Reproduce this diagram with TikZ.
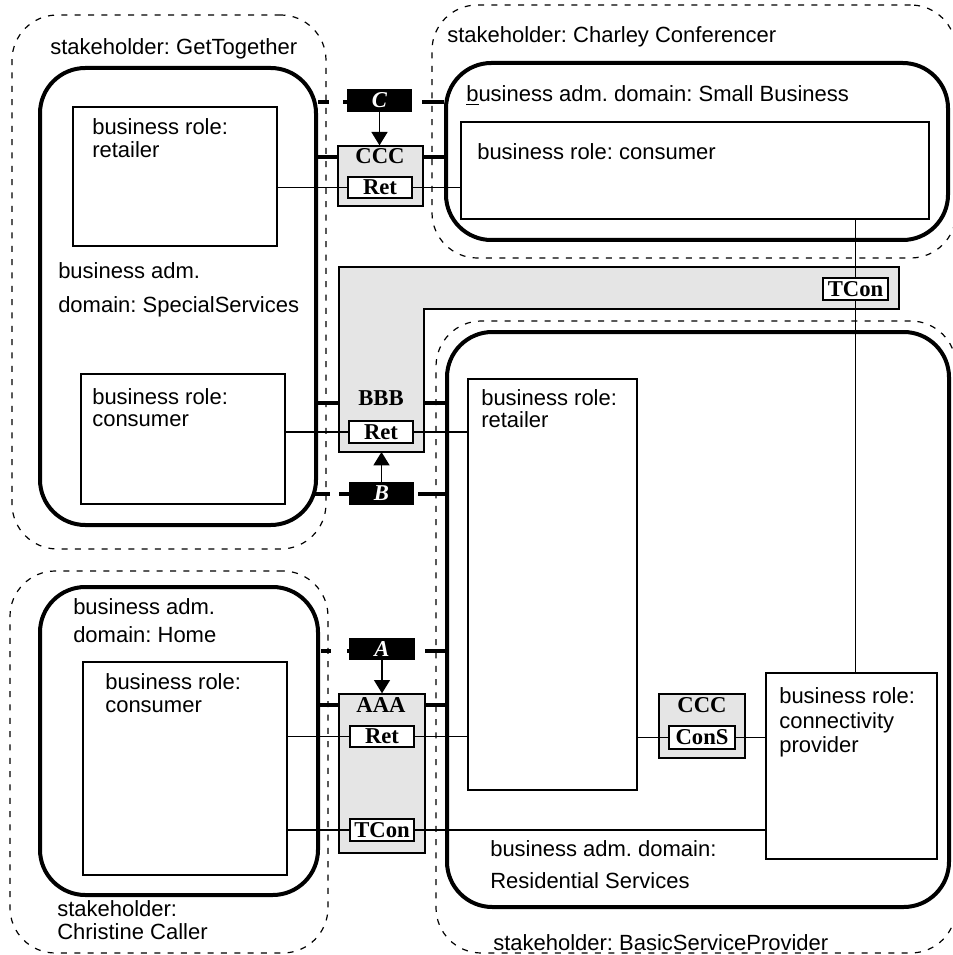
\documentclass[tikz,border=0pt]{standalone}
\usepackage{fontspec}
\setmainfont{Liberation Serif}
\setsansfont{Liberation Sans}
\usetikzlibrary{fit,arrows.meta}
\definecolor{boxgray}{gray}{0.9}
\pgfdeclarelayer{back}
\pgfdeclarelayer{mid}
\pgfsetlayers{back,mid,main}
\frenchspacing
\begin{document}
\begin{tikzpicture}[x=0.75pt,y=-0.75pt,
  stake/.style={draw, line width=0.9pt, dash pattern=on 4.5pt off 5.5pt, rounded corners=34pt, inner sep=0pt},
  adm/.style={draw, line width=3pt, rounded corners=34pt, inner sep=0pt},
  role/.style={draw, line width=1pt, inner sep=0pt},
  gbox/.style={draw, line width=1pt, fill=boxgray, inner sep=0pt},
  sz/.style 2 args={minimum width=#1*0.75pt, minimum height=#2*0.75pt},
  ibox/.style={draw, line width=1.1pt, fill=white, inner sep=0pt, font=\bfseries\fontsize{17}{17}\selectfont},
  bbox/.style={fill=black, inner sep=0pt, text=white, font=\bfseries\itshape\fontsize{17}{17}\selectfont},
  txt/.style={anchor=base west, inner sep=0pt, font=\sffamily\fontsize{16.5}{18}\selectfont},
  btxt/.style={inner sep=0pt, font=\bfseries\fontsize{17}{17}\selectfont},
  conn/.style={line width=1pt},
  stub/.style={line width=2.4pt},
  arr/.style={line width=1pt, -{Triangle[width=12pt,length=10pt]}},
]
\useasboundingbox (0,0) rectangle (952,955);
\begin{pgfonlayer}{back}
\fill[white] (0,0) rectangle (952,955);
% stakeholders (dashed)
\node[stake, fit={(12,15) (326,549)}] (getT) {};
\node[stake, fit={(432,5) (956,258)}] (charley) {};
\node[stake, fit={(10,571) (328,953)}] (christine) {};
\node[stake, fit={(436,321) (956,953)}] (basic) {};
% business administrative domains (thick)
\node[adm, fit={(40,68) (316,525)}] (ss) {};
\node[adm, fit={(446,63) (948,240)}] (sb) {};
\node[adm, fit={(40,587) (318,895)}] (home) {};
\node[adm, fit={(447,332) (949,907)}] (res) {};
% business roles
\node[role, fit={(73,107) (277,246)}] (retGT) {};
\node[role, fit={(81,374) (285,504)}] (conSS) {};
\node[role, fit={(461,122) (929,219)}] (conSB) {};
\node[role, fit={(83,662) (287,875)}] (conHome) {};
\node[role, fit={(468,379) (637,790)}] (retRes) {};
\node[role, fit={(766,673) (937,859)}] (connP) {};
% reference points (gray)
\node[gbox, fit={(338,146) (423,206)}] (ccc1) {};
\coordinate (bbbNW) at (339,267);
\coordinate (bbbNE) at (899,267);
\coordinate (bbbIn) at (424,309);
\coordinate (bbbSW) at (339,452);
\draw[line width=1pt, fill=boxgray] (bbbNW) -- (bbbNE) -- (899,309) -- (bbbIn) -- (424,452) -- (bbbSW) -- cycle;
\node[gbox, fit={(339,694) (425,853)}] (aaa) {};
\node[gbox, fit={(659,694) (745,758)}] (ccc2) {};
\end{pgfonlayer}
% reference point labels
\node[btxt] (cccT) at (380,156) {CCC};
\node[btxt] (bbbT) at (381,398) {BBB};
\node[btxt] (aaaT) at (381,705) {AAA};
\node[btxt] (ccc2T) at (702,705) {CCC};
% interface boxes
\node[ibox, sz={64}{21}] (ret1) at (380,187.5) {Ret};
\node[ibox, sz={64}{22}] (ret2) at (381,432) {Ret};
\node[ibox, sz={65}{22}] (tcon1) at (855.5,289) {TCon};
\node[ibox, sz={64}{21}] (ret3) at (382,736.5) {Ret};
\node[ibox, sz={64}{22}] (tcon2) at (382,830) {TCon};
\node[ibox, sz={66}{23}] (cons) at (702,737.5) {ConS};
% connectors
\begin{pgfonlayer}{mid}
\draw[conn] (ret1.west -| retGT.east) -- (ret1.west);
\draw[conn] (ret1.east) -- (ret1.east -| conSB.west);
\draw[conn] (ret2.west -| conSS.east) -- (ret2.west);
\draw[conn] (ret2.east) -- (ret2.east -| retRes.west);
\draw[conn] (ret3.west -| conHome.east) -- (ret3.west);
\draw[conn] (ret3.east) -- (ret3.east -| retRes.west);
\draw[conn] (tcon2.west -| conHome.east) -- (tcon2.west);
\draw[conn] (tcon2.east) -- (tcon2.east -| connP.west);
\draw[conn] (cons.west -| retRes.east) -- (cons.west);
\draw[conn] (cons.east) -- (cons.east -| connP.west);
\draw[conn] (conSB.south -| tcon1) -- (tcon1.north);
\draw[conn] (tcon1.south) -- (connP.north -| tcon1);
\end{pgfonlayer}
% black labels
\node[bbox, sz={65}{23}] (cbx) at (379.5,100.5) {C};
\node[bbox, sz={65}{23}] (bbx) at (381.5,493.5) {B};
\node[bbox, sz={66}{22}] (abx) at (382,649) {A};
\draw[arr] (cbx.south) -- (cbx.south |- ccc1.north);
\draw[arr] (bbx.north) -- (bbx.north |- bbbSW);
\draw[arr] (abx.south) -- (abx.south |- aaa.north);
% stubs
\coordinate (yC) at (0,102);
\coordinate (yB) at (0,494);
\coordinate (yA) at (0,651);
\draw[stub] (yC -| ss.east) -- ++(11,0);
\draw[stub] (yC -| cbx.west) -- ++(-4,0);
\draw[stub] (yC -| sb.west) -- ++(-22,0);
\draw[stub] (yB -| ss.east) ++(-6,0) -- ++(18,0);
\draw[stub] (yB -| bbx.west) -- ++(-10,0);
\draw[stub] (yB -| res.west) -- ++(-27,0);
\draw[stub] (yA -| home.east) ++(1,0) -- ++(10,0);
\draw[stub] (yA -| abx.west) -- ++(-2,0);
\draw[stub] (yA -| res.west) ++(2,0) -- ++(-22,0);
\coordinate (y1) at (0,157);
\coordinate (y2) at (0,403);
\coordinate (y3) at (0,705);
\draw[stub] (y1 -| ss.east) -- (y1 -| ccc1.west);
\draw[stub] (y1 -| ccc1.east) -- (y1 -| sb.west);
\draw[stub] (y2 -| ss.east) -- (y2 -| bbbSW);
\draw[stub] (y2 -| bbbIn) -- (y2 -| res.west);
\draw[stub] (y3 -| home.east) -- (y3 -| aaa.west);
\draw[stub] (y3 -| aaa.east) -- (y3 -| res.west);
% texts
\node[txt] (tGT) at (50,55) {stakeholder: GetTogether};
\node[txt] (tCC) at (447,43) {stakeholder: Charley Conferencer};
\node[txt] (tSB) at (466,102) {\underline{b}usiness adm. domain: Small Business};
\node[txt] (tSBc) at (477,160) {business role: consumer};
\node[txt] (tGT1) at (92,135) {business role:};
\node[txt] (tGT2) at (92,158) {retailer};
\node[txt] (tSS1) at (58,279) {business adm.};
\node[txt] (tSS2) at (58,312) {domain: SpecialServices};
\node[txt] (tcSS1) at (92,404) {business role:};
\node[txt] (tcSS2) at (92,426) {consumer};
\node[txt] (tRR1) at (481,405) {business role:};
\node[txt] (tRR2) at (481,427) {retailer};
\node[txt] (tH1) at (73,614) {business adm.};
\node[txt] (tH2) at (73,642) {domain: Home};
\node[txt] (tcH1) at (105,689) {business role:};
\node[txt] (tcH2) at (105,712) {consumer};
\node[txt] (tCP1) at (779,703) {business role:};
\node[txt] (tCP2) at (779,728) {connectivity};
\node[txt] (tCP3) at (779,752) {provider};
\node[txt] (tRS1) at (490,856) {business adm. domain:};
\node[txt] (tRS2) at (490,888) {Residential Services};
\node[txt] (tCh1) at (57,916) {stakeholder:};
\node[txt] (tCh2) at (57,939) {Christine Caller};
\node[txt] (tBSP) at (493,950) {stakeholder: BasicServiceProvider};
\end{tikzpicture}
\end{document}
